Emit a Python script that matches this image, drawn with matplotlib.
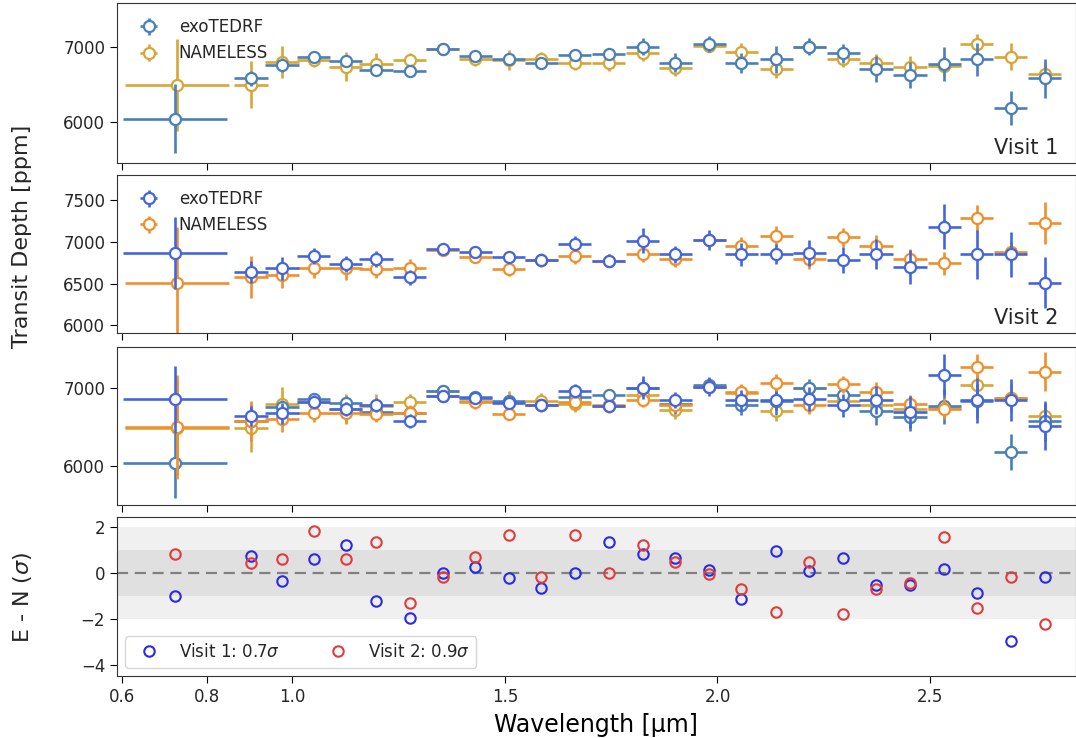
import matplotlib
matplotlib.use("Agg")
import matplotlib.pyplot as plt
import numpy as np

# ---------------- data ----------------
wl_exo = [0.724, 0.903, 0.976, 1.051, 1.126, 1.197, 1.276, 1.354, 1.431, 1.509,
          1.586, 1.664, 1.744, 1.824, 1.901, 1.981, 2.056, 2.138, 2.216, 2.296,
          2.373, 2.453, 2.533, 2.610, 2.690, 2.770]
wl_nam = [0.729] + wl_exo[1:]
wl_halfwidth = [0.123] + [0.039] * 25

v1_exo = [6044, 6584, 6763, 6866, 6817, 6696, 6683, 6973, 6884, 6840, 6786, 6890, 6910,
          7008, 6794, 7040, 6786, 6840, 7008, 6920, 6705, 6629, 6772, 6840, 6183, 6585]
v1_exo_err = [460, 100, 90, 80, 80, 70, 70, 60, 60, 70, 70, 70, 80, 110, 125, 105, 130,
              180, 120, 127, 170, 175, 225, 220, 230, 260]
v1_nam = [6495, 6495, 6800, 6830, 6740, 6776, 6821, 6970, 6840, 6830, 6840, 6794, 6786,
          6920, 6719, 7021, 6941, 6705, 7000, 6840, 6786, 6740, 6750, 7044, 6874, 6643]
v1_nam_err = [615, 315, 215, 100, 190, 150, 105, 80, 90, 135, 100, 100, 100, 100, 110,
              80, 110, 120, 90, 100, 120, 140, 130, 135, 180, 150]

v2_exo = [6862, 6642, 6682, 6829, 6734, 6793, 6575, 6909, 6881, 6812, 6782, 6973, 6773,
          7012, 6849, 7020, 6849, 6849, 6862, 6782, 6849, 6695, 7180, 6849, 6849, 6511]
v2_exo_err = [430, 130, 135, 90, 90, 90, 90, 70, 70, 70, 70, 90, 80, 150, 100, 120, 135,
              120, 155, 150, 180, 205, 265, 290, 270, 305]
v2_nam = [6503, 6582, 6603, 6682, 6682, 6670, 6689, 6900, 6821, 6670, 6782, 6829, 6773,
          6849, 6789, 7020, 6949, 7072, 6789, 7052, 6949, 6794, 6742, 7281, 6881, 7219]
v2_nam_err = [676, 253, 160, 120, 140, 100, 100, 70, 80, 80, 80, 90, 80, 90, 90, 80, 110,
              120, 120, 110, 130, 120, 140, 160, 120, 250]

res_v1 = [-0.97, 0.77, -0.33, 0.61, 1.24, -1.19, -1.96, 0.00, 0.27, -0.21, -0.65, 0.03,
          1.38, 0.83, 0.66, 0.15, -1.13, 0.99, 0.10, 0.66, -0.51, -0.51, 0.18, -0.84,
          -2.94, -0.14]
res_v2 = [0.83, 0.44, 0.61, 1.82, 0.61, 1.38, -1.28, -0.17, 0.69, 1.65, -0.14, 1.65,
          0.00, 1.24, 0.48, -0.04, -0.70, -1.67, 0.47, -1.79, -0.70, -0.41, 1.60, -1.52,
          -0.14, -2.22]

labels = ["exoTEDRF", "NAMELESS"]
res_labels = [r"Visit 1: 0.7$\sigma$", r"Visit 2: 0.9$\sigma$"]
xticks = [0.6, 0.8, 1.0, 1.5, 2.0, 2.5]

# ---------------- style ----------------
c_v1_exo = "#4a7fb8"
c_v1_nam = "#d8a634"
c_v2_exo = "#4466dd"
c_v2_nam = "#f0902c"

plt.rcParams["font.family"] = "DejaVu Sans"
plt.rcParams["font.size"] = 12
plt.rcParams["text.color"] = "#262626"
plt.rcParams["xtick.labelcolor"] = "#262626"
plt.rcParams["ytick.labelcolor"] = "#262626"

fig = plt.figure(figsize=(10.76, 7.38), dpi=100)
W, H = 1076, 738
left, right = 117 / W, 1075.5 / W
panels_px = [(3, 163), (175, 333), (347, 505), (517, 676)]
axes = []
for top, bot in panels_px:
    ax = fig.add_axes([left, 1 - bot / H, right - left, (bot - top) / H])
    axes.append(ax)
ax1, ax2, ax3, ax4 = axes

ekw = dict(fmt="o", ms=8, mfc="white", mew=1.6, elinewidth=1.9, capsize=0, lw=0)


def draw(ax, wl, y, yerr, color, label=None, z=2):
    return ax.errorbar(wl, y, yerr=yerr, xerr=wl_halfwidth, color=color, mec=color,
                       label=label, zorder=z, **ekw)


draw(ax1, wl_exo, v1_exo, v1_exo_err, c_v1_exo, labels[0], 3)
draw(ax1, wl_nam, v1_nam, v1_nam_err, c_v1_nam, labels[1], 2)
ax1.legend(loc="upper left", frameon=False, fontsize=12)
ax1.text(0.982, 0.03, "Visit 1", transform=ax1.transAxes, ha="right", va="bottom",
         fontsize=15)

draw(ax2, wl_exo, v2_exo, v2_exo_err, c_v2_exo, labels[0], 3)
draw(ax2, wl_nam, v2_nam, v2_nam_err, c_v2_nam, labels[1], 2)
ax2.legend(loc="upper left", frameon=False, fontsize=12)
ax2.text(0.982, 0.03, "Visit 2", transform=ax2.transAxes, ha="right", va="bottom",
         fontsize=15)

draw(ax3, wl_nam, v1_nam, v1_nam_err, c_v1_nam, None, 2)
draw(ax3, wl_exo, v1_exo, v1_exo_err, c_v1_exo, None, 3)
draw(ax3, wl_nam, v2_nam, v2_nam_err, c_v2_nam, None, 4)
draw(ax3, wl_exo, v2_exo, v2_exo_err, c_v2_exo, None, 5)

ax4.axhspan(-2, 2, color="#f0f0f0", lw=0, zorder=0)
ax4.axhspan(-1, 1, color="#e0e0e0", lw=0, zorder=0)
ax4.axhline(0, color="#808080", ls=(0, (5, 3)), lw=1.6, zorder=1)
ax4.plot(wl_exo, res_v1, "o", ms=7.5, mfc="none", mec="#2a2ae6", mew=1.5,
         label=res_labels[0], zorder=3)
ax4.plot(wl_exo, res_v2, "o", ms=7.5, mfc="none", mec="#e03c3c", mew=1.5,
         label=res_labels[1], zorder=3)
ax4.legend(loc="lower left", ncol=2, fontsize=12, columnspacing=2.5)

ax1.set_ylim(5450, 7590)
ax1.set_yticks([6000, 7000])
ax2.set_ylim(5910, 7796)
ax2.set_yticks([6000, 6500, 7000, 7500])
ax3.set_ylim(5498, 7535)
ax3.set_yticks([6000, 7000])
ax4.set_ylim(-4.47, 2.45)
ax4.set_yticks([-4, -2, 0, 2])

for ax in axes:
    ax.set_xlim(0.588, 2.842)
    ax.set_xticks(xticks)
    ax.tick_params(labelsize=12, length=5)
    for s in ax.spines.values():
        s.set_color("#333333")
for ax in axes[:3]:
    ax.set_xticklabels([])
ax4.set_xticklabels([f"{t:.1f}" for t in xticks])

ax4.set_xlabel("Wavelength [µm]", fontsize=17, labelpad=5)
fig.text(22 / W, 1 - 236 / H, "Transit Depth [ppm]", rotation=90, ha="center",
         va="center", fontsize=16)
fig.text(22 / W, 1 - 597 / H, r"E - N ($\sigma$)", rotation=90, ha="center",
         va="center", fontsize=16)

fig.savefig("out.png", dpi=100)
